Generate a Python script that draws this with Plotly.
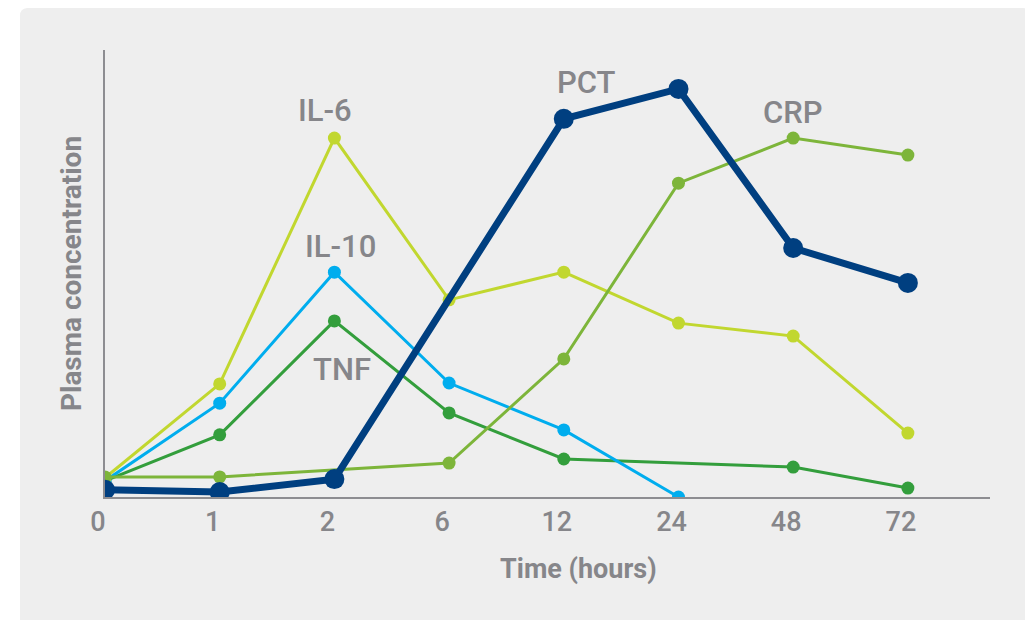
import plotly.graph_objects as go

# ---- data (arbitrary plasma concentration units) ----
time_labels = ["0", "1", "2", "6", "12", "24", "48", "72"]

pct = [1.6, 1.1, 4.0, None, 84.6, 91.3, 55.7, 47.9]
il6 = [4.3, 25.3, 80.3, 44.1, 50.3, 38.9, 36.0, 14.3]
il10 = [3.6, 21.0, 50.3, 25.5, 15.0, 0.0, None, None]
tnf = [3.6, 13.9, 39.4, 18.8, 8.5, None, 6.7, 2.0]
crp = [4.5, 4.5, None, 7.6, 30.9, 70.2, 80.3, 76.5]

series_names = ["TNF", "IL-10", "IL-6", "CRP", "PCT"]
series_values = [tnf, il10, il6, crp, pct]

# ---- styles ----
colors = {"TNF": "#339e3c", "IL-10": "#00adee", "IL-6": "#c1d72f",
          "CRP": "#7db53a", "PCT": "#003f80"}
line_w = {"TNF": 3, "IL-10": 3, "IL-6": 3, "CRP": 3, "PCT": 7}
mark_s = {"TNF": 13, "IL-10": 13, "IL-6": 13, "CRP": 13, "PCT": 20}

GRAY = "#86868a"
FONT = "Roboto"

fig = go.Figure()
for name, vals in zip(series_names, series_values):
    fig.add_trace(go.Scatter(
        x=time_labels, y=vals, name=name, mode="lines+markers",
        connectgaps=True,
        line=dict(color=colors[name], width=line_w[name]),
        marker=dict(color=colors[name], size=mark_s[name]),
        showlegend=False, hoverinfo="skip"))

# series labels placed next to their curves (x in category index units)
label_pos = {"IL-6": (1.92, 86.5), "IL-10": (2.05, 56.0), "TNF": (2.07, 28.5),
             "PCT": (4.20, 92.8), "CRP": (6.00, 86.0)}
for name, (lx, ly) in label_pos.items():
    fig.add_annotation(x=lx, y=ly, xref="x", yref="y", text=name,
                       showarrow=False, xanchor="center", yanchor="middle",
                       font=dict(family=FONT, size=31, color=GRAY, weight=500))

# x-axis title (offset from centre as in the reference)
fig.add_annotation(x=0.535, y=-0.162, xref="paper", yref="paper",
                   text="<b>Time (hours)</b>", showarrow=False,
                   xanchor="center", yanchor="middle",
                   font=dict(family=FONT, size=27, color=GRAY))

# grey panel behind the chart
fig.add_shape(type="path", xref="paper", yref="paper", layer="below",
              path="M -0.0961 -0.40 L -0.0961 1.076 Q -0.0961 1.094 -0.0871 1.094 "
                   "L 1.0362 1.094 Q 1.0452 1.094 1.0452 1.076 L 1.0452 -0.40 Z",
              fillcolor="#eeeeee", line=dict(width=0))

fig.update_xaxes(type="category", range=[0, 7.716], showline=True,
                 linecolor="#8d8d91", linewidth=2, showgrid=False,
                 zeroline=False, ticks="", ticklabelshift=-7,
                 tickfont=dict(family=FONT, size=27, color=GRAY, weight=500),
                 fixedrange=True)
fig.update_yaxes(range=[0, 100], showline=True, linecolor="#8d8d91",
                 linewidth=2, showgrid=False, zeroline=False, ticks="",
                 showticklabels=False,
                 title=dict(text="<b>Plasma concentration</b>", standoff=13,
                            font=dict(family=FONT, size=28, color=GRAY)),
                 fixedrange=True)

# the page adds an 8px body margin, so the figure is 8px smaller than the window
fig.update_layout(width=1025, height=612,
                  margin=dict(l=97, r=43, t=42, b=123, autoexpand=False),
                  paper_bgcolor="white", plot_bgcolor="#eeeeee",
                  font=dict(family=FONT, color=GRAY))

fig.write_html("out.html")
